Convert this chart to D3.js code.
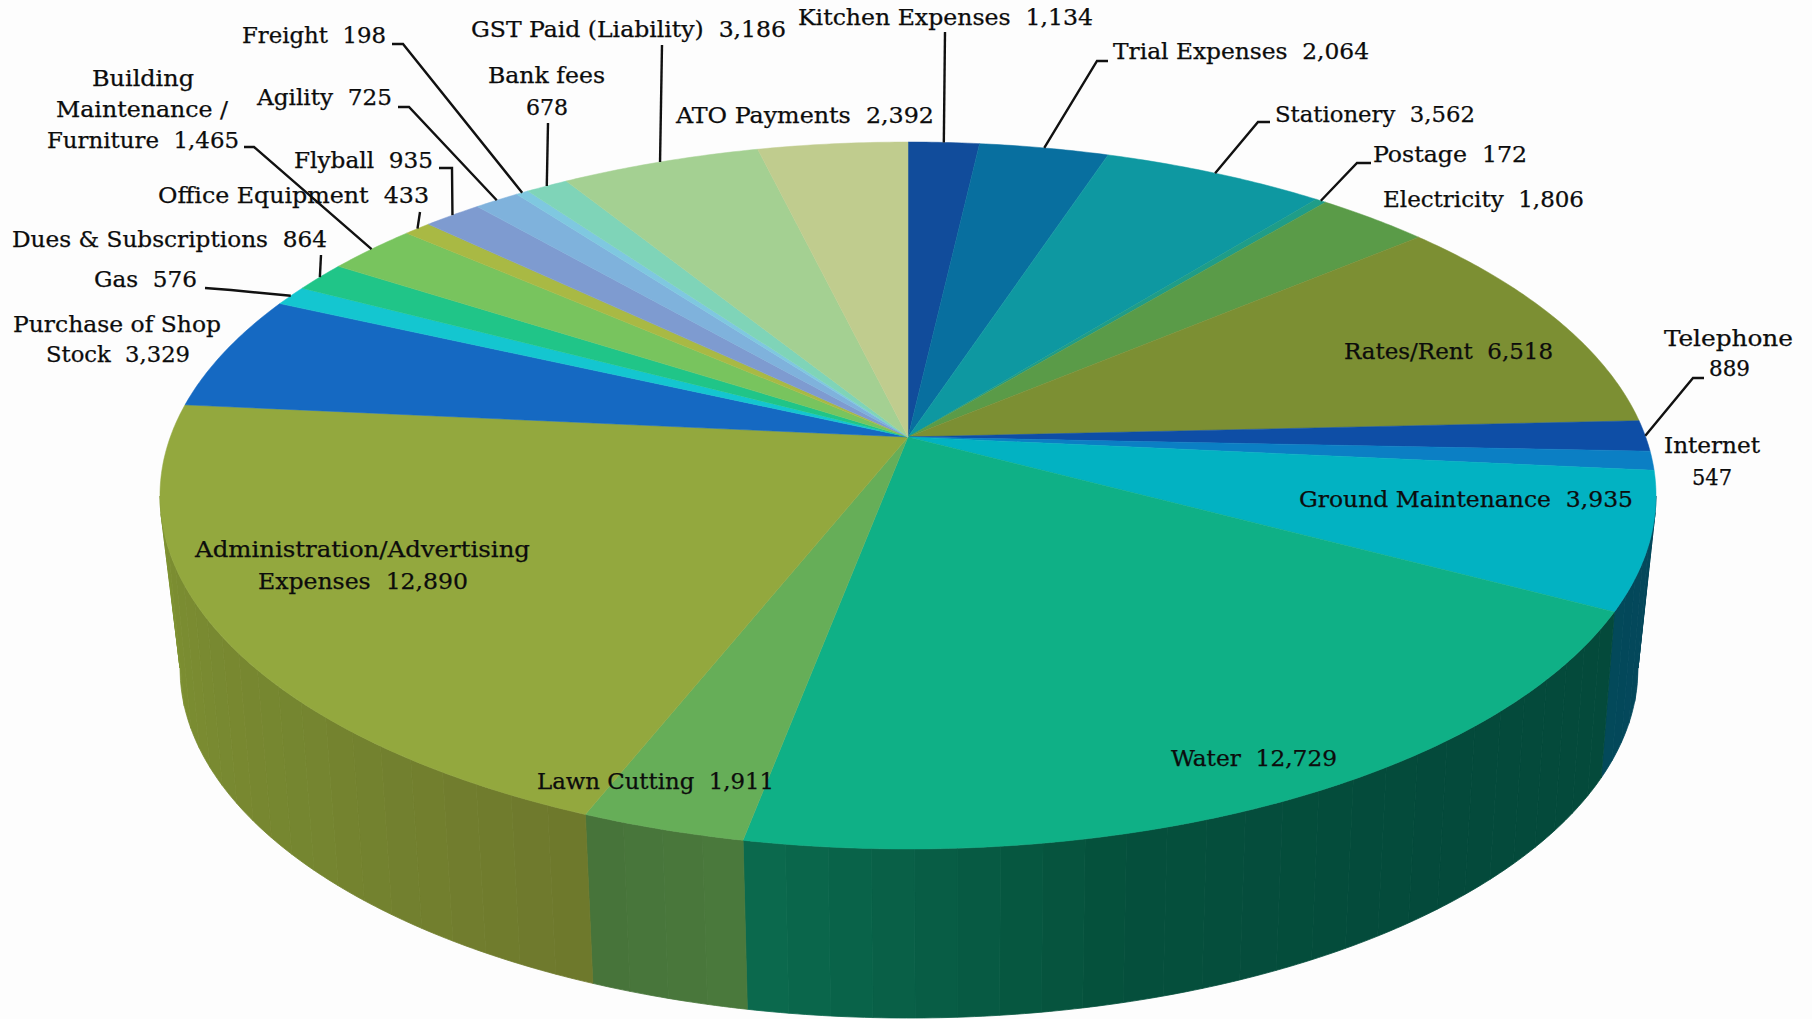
<!DOCTYPE html>
<html>
<head>
<meta charset="utf-8">
<script src="https://cdnjs.cloudflare.com/ajax/libs/d3/7.8.5/d3.min.js"></script>
<style>
    html, body { margin: 0; padding: 0; background: #fdfdfd; overflow: hidden; }
    text { font-family: "DejaVu Serif Condensed", "DejaVu Serif", serif; font-size: 23px; fill: #0c0c0c; stroke: #0c0c0c; stroke-width: 0.25; white-space: pre; }
</style>
</head>
<body>
<div id="chart"></div>
<script>
// clockwise from 12 o'clock
const categories = ["Kitchen Expenses", "Trial Expenses", "Stationery", "Postage", "Electricity", "Rates/Rent",
    "Telephone", "Internet", "Ground Maintenance", "Water", "Lawn Cutting", "Administration/Advertising Expenses",
    "Purchase of Shop Stock", "Gas", "Dues & Subscriptions", "Building Maintenance / Furniture", "Office Equipment",
    "Flyball", "Agility", "Freight", "Bank fees", "GST Paid (Liability)", "ATO Payments"];
const values = [1134, 2064, 3562, 172, 1806, 6518, 889, 547, 3935, 12729, 1911, 12890,
    3329, 576, 864, 1465, 433, 935, 725, 198, 678, 3186, 2392];

const topColors = ["#114c9b", "#086f9f", "#0e98a1", "#1f9d88", "#5a9b48", "#7c8f33", "#0e4ea6", "#0b7fc4",
    "#02b2c2", "#0fb086", "#66ae58", "#93a83e", "#1569c2", "#14c6d0", "#20c588", "#78c45e", "#a9b944",
    "#7e9bd0", "#7fb2dc", "#7fc8e0", "#7fd4b8", "#a4d092", "#c0cc8e"];
// wall colours along each slice that shows a wall
const wallColors = {
    "Ground Maintenance": ["#05465c", "#03495a"],
    "Water": ["#044a3b", "#044a3b", "#05503c", "#0b6b4e"],
    "Lawn Cutting": ["#4a7a3c", "#47733a"],
    "Administration/Advertising Expenses": ["#6e782c", "#758530", "#7b8d31", "#879e35"]
};

// label lines, the value goes after the last one
const labelLines = [["Kitchen Expenses"], ["Trial Expenses"], ["Stationery"], ["Postage"], ["Electricity"], ["Rates/Rent"],
    ["Telephone", ""], ["Internet", ""], ["Ground Maintenance"], ["Water"], ["Lawn Cutting"],
    ["Administration/Advertising", "Expenses"], ["Purchase of Shop", "Stock"], ["Gas"], ["Dues & Subscriptions"],
    ["Building", "Maintenance /", "Furniture"], ["Office Equipment"], ["Flyball"], ["Agility"], ["Freight"],
    ["Bank fees", ""], ["GST Paid (Liability)"], ["ATO Payments"]];
// left, right, baseline of each label line
const labelBoxes = [[[798, 1093, 25]], [[1113, 1369, 59]], [[1275, 1475, 122]], [[1373, 1527, 162]], [[1383, 1584, 207]],
    [[1344, 1553, 359]], [[1664, 1793, 346], [1709, 1750, 376]], [[1664, 1760, 453], [1692, 1732, 485]],
    [[1299, 1633, 507]], [[1171, 1337, 766]], [[537, 774, 789]], [[195, 530, 557], [258, 468, 589]],
    [[13, 221, 332], [46, 190, 362]], [[94, 197, 287]], [[12, 327, 247]],
    [[92, 194, 86], [56, 228, 117], [47, 239, 148]], [[158, 429, 203]], [[294, 433, 168]], [[257, 392, 105]],
    [[242, 386, 43]], [[488, 605, 83], [526, 568, 115]], [[471, 786, 37]], [[676, 934, 123]]];
// leader line points before it reaches the slice, null = no leader
const leaderPoints = [[[945, 32]], [[1108, 61], [1097, 61]], [[1270, 122], [1258, 122]], [[1371, 163], [1357, 163]], null,
    null, [[1704, 378], [1693, 378]], null, null, null, null, null, null, [[205, 288], [231, 290]], [[321, 255]],
    [[244, 147], [254, 147]], [[420, 212]], [[439, 168], [452, 168]], [[398, 107], [409, 107]], [[392, 44], [403, 44]],
    [[548, 123]], [[662, 45]], null];

const width = 1812;
const height = 1019;

// the pie sits in perspective, the apex is not the middle of the ellipse
const tilt = 0.1655;
const disc = { x: 908, y: 437, a: 737.7, b: 343.8, midY: 496 };
const base = { x: 909, y: 668, rx: 729, ry: 350, shrink: 0.98 };

function project(angle) {
    const px = Math.sin(angle);
    const py = -Math.cos(angle);
    const w = 1 - tilt * py;
    return [disc.x + disc.a * px / w, disc.y + disc.b * py / w];
}

// point on the lower rim right under a point of the top rim
function dropToBase(p) {
    const dx = Math.max(-base.rx, Math.min(base.rx, (p[0] - disc.x) * base.shrink));
    const u = dx / base.rx;
    return [base.x + dx, base.y + base.ry * Math.sqrt(1 - u * u)];
}

function arcAngles(start, end, step) {
    const n = Math.max(1, Math.ceil((end - start) / step));
    return d3.range(n + 1).map((i) => start + (end - start) * i / n);
}

// the wall only shows below the widest line of the top ellipse
const edgePy = (disc.midY - disc.y) / (disc.b + tilt * (disc.midY - disc.y));
const frontStart = Math.acos(-edgePy);
const frontEnd = 2 * Math.PI - frontStart;

const slices = d3.pie().sort(null).value((d) => d)(values);
const fmt = d3.format(",");
const line = d3.line();

const svg = d3.select("#chart").append("svg")
    .attr("width", width)
    .attr("height", height)
    .style("display", "block");

// walls, cut in vertical bands
const walls = svg.append("g");
slices.forEach(function(d, i) {
    const colours = wallColors[categories[i]];
    if (!colours) return;
    const start = Math.max(d.startAngle, frontStart);
    const end = Math.min(d.endAngle, frontEnd);
    const shade = d3.scaleLinear()
        .domain(d3.range(colours.length).map((k) => d.startAngle + (d.endAngle - d.startAngle) * k / (colours.length - 1)))
        .range(colours);
    d3.pairs(arcAngles(start, end, 0.05)).forEach(function(p) {
        const c = shade((p[0] + p[1]) / 2);
        const inner = arcAngles(p[0], p[1], 0.01).map(project);
        const outer = inner.map(dropToBase).reverse();
        walls.append("path")
            .attr("d", line(inner.concat(outer)) + "Z")
            .attr("fill", c)
            .attr("stroke", c)
            .attr("stroke-width", 0.8);
    });
});

// top face
svg.append("g").selectAll("path")
    .data(slices)
    .enter()
    .append("path")
        .attr("d", (d) => line([[disc.x, disc.y]].concat(arcAngles(d.startAngle, d.endAngle, 0.01).map(project))) + "Z")
        .attr("fill", (d, i) => topColors[i])
        .attr("stroke", (d, i) => topColors[i])
        .attr("stroke-width", 0.5);

// leaders
svg.append("g").selectAll("path")
    .data(slices.filter((d, i) => leaderPoints[i]))
    .enter()
    .append("path")
        .attr("d", (d) => line(leaderPoints[d.index].concat([project((d.startAngle + d.endAngle) / 2)])))
        .attr("fill", "none")
        .attr("stroke", "#111")
        .attr("stroke-width", 2.4);

// labels
const labels = svg.append("g");
labelLines.forEach(function(lines, i) {
    lines.forEach(function(txt, j) {
        const box = labelBoxes[i][j];
        let s = txt;
        if (j == lines.length - 1) {
            s = (txt ? txt + "  " : "") + fmt(values[i]);
        }
        labels.append("text")
            .attr("x", box[0])
            .attr("y", box[2])
            .attr("textLength", box[1] - box[0])
            .attr("lengthAdjust", "spacingAndGlyphs")
            .text(s);
    });
});
</script>
</body>
</html>
